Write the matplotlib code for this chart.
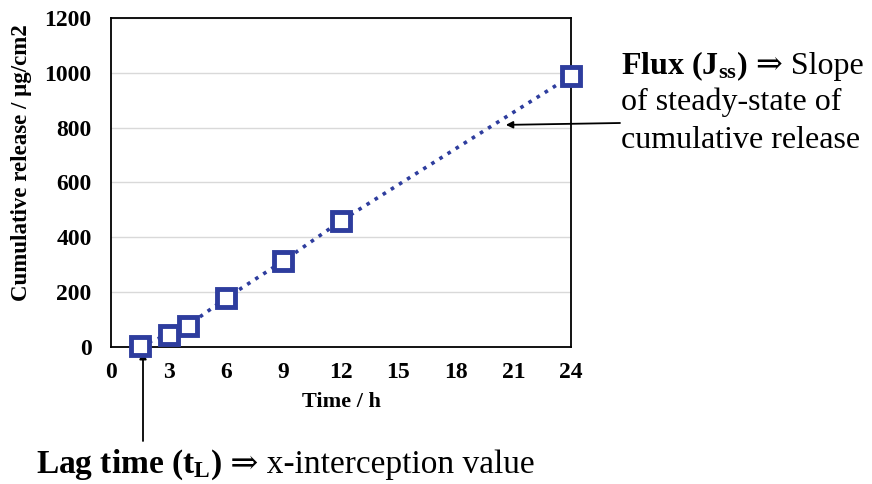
import matplotlib
matplotlib.use("Agg")
import matplotlib.pyplot as plt

# cumulative release profile
time_h = [1.5, 3, 4, 6, 9, 12, 24]
release = [5, 45, 78, 178, 314, 460, 988]
release_err = [4, 8, 12, 18, 10, 14, 8]

x_ticks = [0, 3, 6, 9, 12, 15, 18, 21, 24]
y_ticks = [0, 200, 400, 600, 800, 1000, 1200]

blue = "#2E3D9E"
serif = ["Liberation Serif", "DejaVu Serif"]

plt.rcParams["font.family"] = serif
plt.rcParams["mathtext.fontset"] = "custom"
plt.rcParams["mathtext.rm"] = "Liberation Serif"
plt.rcParams["mathtext.bf"] = "Liberation Serif:bold"
plt.rcParams["mathtext.it"] = "Liberation Serif:italic"

fig = plt.figure(figsize=(8.72, 4.84), dpi=100)
ax = fig.add_axes([0.1273, 0.2831, 0.5275, 0.6798])

ax.plot(time_h, release, linestyle=":", color=blue, linewidth=2.6, zorder=2,
        clip_on=False)
markers = ax.errorbar(time_h, release, yerr=release_err, fmt="s", color=blue,
                      markersize=13, markerfacecolor="white", markeredgewidth=3.5,
                      ecolor="#555555", elinewidth=1, capsize=2, zorder=3)
for artist in markers.lines[0:1] + markers.lines[1] + markers.lines[2]:
    artist.set_clip_on(False)

ax.set_xlim(0, 24)
ax.set_ylim(0, 1200)
ax.set_xticks(x_ticks)
ax.set_yticks(y_ticks)
ax.grid(axis="y", color="#d9d9d9", linewidth=1)
ax.set_axisbelow(True)
for s in ax.spines.values():
    s.set_color("black")
    s.set_linewidth(1.3)
ax.tick_params(length=0, labelsize=17)
ax.tick_params(axis="x", pad=11)
ax.tick_params(axis="y", pad=14)
for lab in ax.get_xticklabels() + ax.get_yticklabels():
    lab.set_fontweight("bold")

ax.set_xlabel("Time / h", fontsize=16, fontweight="bold", labelpad=6)
ax.set_ylabel("Cumulative release / μg/cm2", fontsize=16.5, fontweight="bold")
ax.yaxis.set_label_coords(-0.172, 0.56)


def draw_pieces(x, y, pieces, size):
    # lay out text runs of mixed weight side by side, in figure pixels
    renderer = fig.canvas.get_renderer()
    for txt, weight in pieces:
        t = fig.text(x / 872, 1 - y / 484, txt, fontsize=size, fontweight=weight,
                     family=serif, va="baseline", ha="left")
        bb = t.get_window_extent(renderer=renderer)
        x += bb.width


size = 23
draw_pieces(621, 74, [(r"Flux (J$_{\mathbf{ss}}$)", "bold"), (" ⇒ Slope", "normal")], size)
fig.text(621 / 872, 1 - 110 / 484, "of steady-state of", fontsize=size,
         va="baseline", ha="left")
fig.text(621 / 872, 1 - 148 / 484, "cumulative release", fontsize=size,
         va="baseline", ha="left")
draw_pieces(36, 473, [(r"Lag time (t$_{\mathbf{L}}$)", "bold"),
                      (" ⇒ x-interception value", "normal")], 24)

# arrows pointing at the slope and at the x-intercept
ax.annotate("", xy=(20.6, 810), xytext=(620 / 872, 1 - 123 / 484),
            textcoords="figure fraction",
            arrowprops=dict(arrowstyle="-|>", color="black", lw=1.3,
                            mutation_scale=10, shrinkA=0, shrinkB=0))
ax.annotate("", xy=(143 / 872, 1 - 352 / 484), xycoords="figure fraction",
            xytext=(143 / 872, 1 - 441 / 484), textcoords="figure fraction",
            arrowprops=dict(arrowstyle="-|>", color="black", lw=1.3,
                            mutation_scale=10, shrinkA=0, shrinkB=0),
            annotation_clip=False)

fig.savefig("out.png", dpi=100)
